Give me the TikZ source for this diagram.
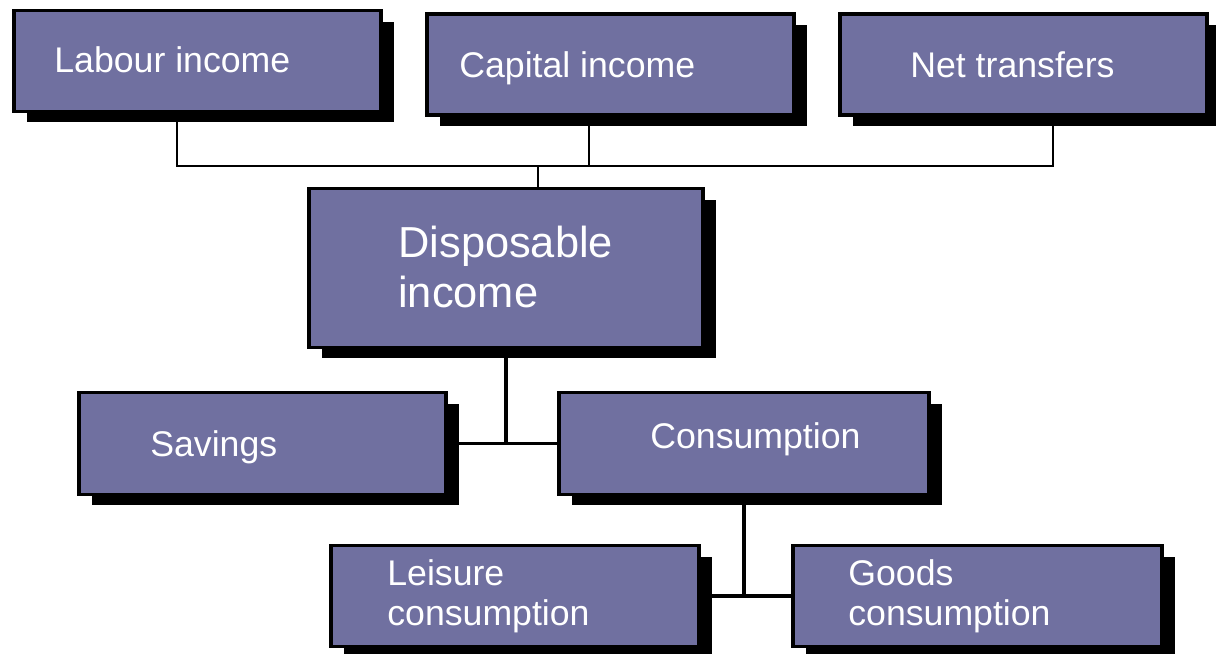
\documentclass[tikz,border=0pt]{standalone}
\usepackage{fontspec}
\setmainfont{Liberation Sans}
\usetikzlibrary{shadows}
\definecolor{boxblue}{RGB}{112,112,160}
\tikzset{
  box/.style={draw=black,line width=1.9pt,fill=boxblue,inner sep=0pt,minimum height=2.02cm,
    drop shadow={shadow xshift=0.26cm,shadow yshift=-0.22cm,fill=black,opacity=1}},
  txt/.style={text=white,inner sep=0pt,font=\fontsize{20.3}{22.8}\selectfont,align=left},
  bigtxt/.style={text=white,inner sep=0pt,font=\fontsize{24.7}{28.5}\selectfont,align=left},
  thinline/.style={line width=1pt},
  thickline/.style={line width=2.1pt}
}
\begin{document}
\begin{tikzpicture}[x=0.02cm,y=-0.02cm]
\useasboundingbox (0,0) rectangle (1216,653);
\node[box,minimum width=7.34cm] (labour) at (197.5,61) {};
\node[box,minimum width=7.34cm] (capital) at (610.5,64.5) {};
\node[box,minimum width=7.34cm] (transfers) at (1023.5,64.5) {};
\node[box,minimum width=7.88cm,minimum height=3.18cm] (dispos) at (506,268) {};
\node[box,minimum width=7.34cm,minimum height=2.04cm] (savings) at (262.5,443.5) {};
\node[box,minimum width=7.4cm,minimum height=2.04cm] (consum) at (744,443.5) {};
\node[box,minimum width=7.36cm] (leisure) at (515,596) {};
\node[box,minimum width=7.38cm] (goods) at (977.5,596) {};

\node[txt,anchor=base west] (labour-t) at (54,72) {Labour income};
\node[txt,anchor=base west] (capital-t) at (459,77) {Capital income};
\node[txt,anchor=base west] (transfers-t) at (910,77) {Net transfers};
\node[bigtxt,anchor=west] (dispos-t) at (398,267) {Disposable\\income};
\node[txt,anchor=base west] (savings-t) at (150,456) {Savings};
\node[txt,anchor=base west] (consum-t) at (650,448) {Consumption};
\node[txt,anchor=west] (leisure-t) at (387,596) {Leisure\\consumption};
\node[txt,anchor=west] (goods-t) at (848,596) {Goods\\consumption};

\coordinate (dispos-in) at ([xshift=0.64cm]dispos.north);
\coordinate (bus) at ([yshift=0.42cm]dispos-in);
\coordinate (labour-out) at ([xshift=-0.41cm]labour.south);
\coordinate (capital-out) at ([xshift=-0.43cm]capital.south);
\coordinate (transfers-out) at ([xshift=0.59cm]transfers.south);
\draw[thinline] (labour-out) |- (bus);
\draw[thinline] (transfers-out) |- (bus);
\draw[thinline] (capital-out) -- (capital-out |- bus);
\draw[thinline] (bus) -- (dispos-in);
\draw[thickline] (dispos.south) -- (dispos.south |- consum.west);
\draw[thickline] (savings.east) -- (consum.west);
\draw[thickline] (consum.south) -- (consum.south |- goods.west);
\draw[thickline] (leisure.east) -- (goods.west);
\end{tikzpicture}
\end{document}
